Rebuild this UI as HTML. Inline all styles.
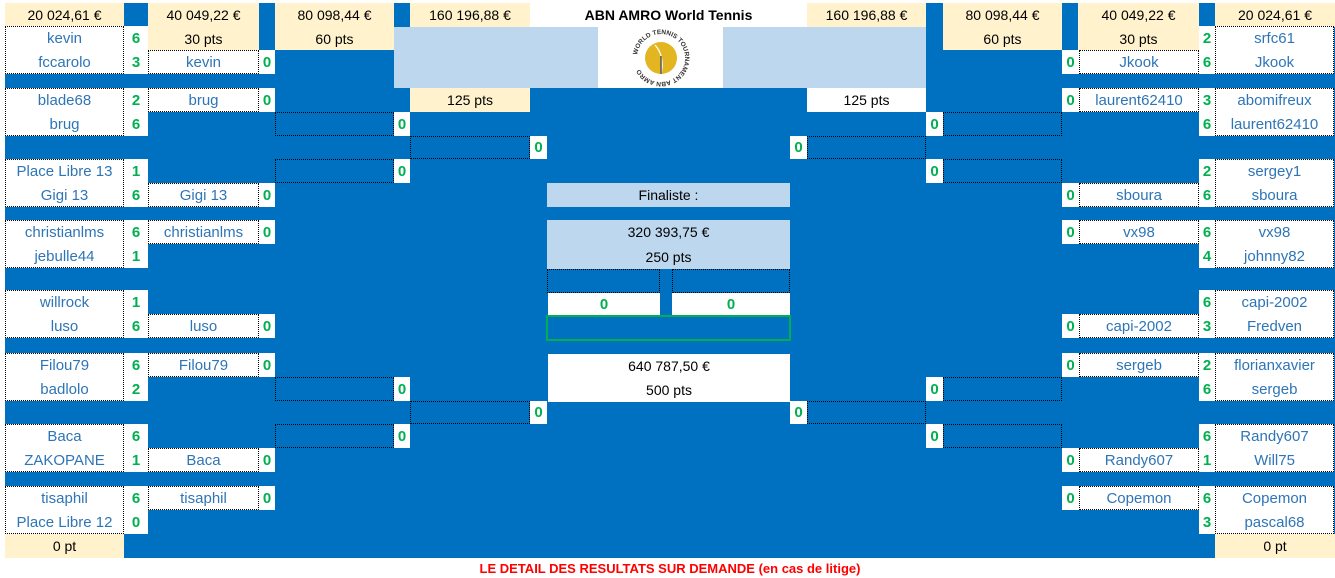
<!DOCTYPE html>
<html><head><meta charset="utf-8"><style>
body{margin:0;width:1335px;height:576px;background:#fff;position:relative;overflow:hidden;font-family:"Liberation Sans",Arial,sans-serif;}
.c{position:absolute;box-sizing:border-box;display:flex;align-items:center;justify-content:center;font-size:14px;color:#000;white-space:nowrap}
.y{background:#FFF2CC}
.w{background:#fff}
.lb{background:#BDD7EE}
.d{border:1px dotted #000}
.n{color:#2E75B6;font-size:15px}
.s{color:#00B050;font-weight:bold;font-size:15px;background:#fff}
</style></head><body>
<div class="c" style="left:5px;top:3px;width:1330px;height:555px;background:#0070C0"></div>
<!-- header row -->
<div class="c y" style="left:5px;top:3px;width:119px;height:24px">20 024,61 €</div>
<div class="c y" style="left:148px;top:3px;width:111px;height:24px">40 049,22 €</div>
<div class="c y" style="left:275px;top:3px;width:119px;height:24px">80 098,44 €</div>
<div class="c y" style="left:410px;top:3px;width:120px;height:24px">160 196,88 €</div>
<div class="c w" style="left:530px;top:3px;width:277px;height:24px;font-weight:bold">ABN AMRO World Tennis</div>
<div class="c y" style="left:807px;top:3px;width:119px;height:24px">160 196,88 €</div>
<div class="c y" style="left:943px;top:3px;width:119px;height:24px">80 098,44 €</div>
<div class="c y" style="left:1078px;top:3px;width:121px;height:24px">40 049,22 €</div>
<div class="c y" style="left:1215px;top:3px;width:120px;height:24px">20 024,61 €</div>
<div class="c y" style="left:148px;top:27px;width:111px;height:23px">30 pts</div>
<div class="c y" style="left:275px;top:27px;width:119px;height:23px">60 pts</div>
<div class="c y" style="left:943px;top:27px;width:119px;height:23px">60 pts</div>
<div class="c y" style="left:1078px;top:27px;width:121px;height:23px">30 pts</div>
<div class="c lb" style="left:394px;top:27px;width:532px;height:61px"></div>
<div class="c w" style="left:598px;top:27px;width:125px;height:61px">
<svg width="60" height="60" viewBox="0 0 60 60"><defs><path id="ring" d="M30,30 m-24,0 a24,24 0 1,1 48,0 a24,24 0 1,1 -48,0"/></defs>
<circle cx="30" cy="30" r="16" fill="#E2B521"/><path d="M24 17 Q34 28 30 46" stroke="#fff" fill="none" stroke-width="1.3"/><line x1="30" y1="28" x2="30" y2="46" stroke="#555" stroke-width="1.5"/>
<text font-size="6.5" font-weight="bold" fill="#333" font-family="Liberation Sans"><textPath href="#ring" startOffset="2%">WORLD TENNIS TOURNAMENT ABN AMRO</textPath></text></svg></div>
<div class="c y" style="left:410px;top:88px;width:120px;height:24px">125 pts</div>
<div class="c w" style="left:807px;top:88px;width:119px;height:24px">125 pts</div>

<!-- left first round -->
<div class="c w d" style="left:5px;top:26px;width:119px;height:48px"></div>
<div class="c n" style="left:5px;top:26px;width:119px;height:24px">kevin</div>
<div class="c n" style="left:5px;top:50px;width:119px;height:24px">fccarolo</div>
<div class="c s" style="left:124px;top:26px;width:24px;height:24px">6</div>
<div class="c s" style="left:124px;top:50px;width:24px;height:24px">3</div>
<div class="c w d" style="left:5px;top:88px;width:119px;height:48px"></div>
<div class="c n" style="left:5px;top:88px;width:119px;height:24px">blade68</div>
<div class="c n" style="left:5px;top:112px;width:119px;height:24px">brug</div>
<div class="c s" style="left:124px;top:88px;width:24px;height:24px">2</div>
<div class="c s" style="left:124px;top:112px;width:24px;height:24px">6</div>
<div class="c w d" style="left:5px;top:159px;width:119px;height:48px"></div>
<div class="c n" style="left:5px;top:159px;width:119px;height:24px">Place Libre 13</div>
<div class="c n" style="left:5px;top:183px;width:119px;height:24px">Gigi 13</div>
<div class="c s" style="left:124px;top:159px;width:24px;height:24px">1</div>
<div class="c s" style="left:124px;top:183px;width:24px;height:24px">6</div>
<div class="c w d" style="left:5px;top:220px;width:119px;height:48px"></div>
<div class="c n" style="left:5px;top:220px;width:119px;height:24px">christianlms</div>
<div class="c n" style="left:5px;top:244px;width:119px;height:24px">jebulle44</div>
<div class="c s" style="left:124px;top:220px;width:24px;height:24px">6</div>
<div class="c s" style="left:124px;top:244px;width:24px;height:24px">1</div>
<div class="c w d" style="left:5px;top:290px;width:119px;height:48px"></div>
<div class="c n" style="left:5px;top:290px;width:119px;height:24px">willrock</div>
<div class="c n" style="left:5px;top:314px;width:119px;height:24px">luso</div>
<div class="c s" style="left:124px;top:290px;width:24px;height:24px">1</div>
<div class="c s" style="left:124px;top:314px;width:24px;height:24px">6</div>
<div class="c w d" style="left:5px;top:353px;width:119px;height:48px"></div>
<div class="c n" style="left:5px;top:353px;width:119px;height:24px">Filou79</div>
<div class="c n" style="left:5px;top:377px;width:119px;height:24px">badlolo</div>
<div class="c s" style="left:124px;top:353px;width:24px;height:24px">6</div>
<div class="c s" style="left:124px;top:377px;width:24px;height:24px">2</div>
<div class="c w d" style="left:5px;top:424px;width:119px;height:48px"></div>
<div class="c n" style="left:5px;top:424px;width:119px;height:24px">Baca</div>
<div class="c n" style="left:5px;top:448px;width:119px;height:24px">ZAKOPANE</div>
<div class="c s" style="left:124px;top:424px;width:24px;height:24px">6</div>
<div class="c s" style="left:124px;top:448px;width:24px;height:24px">1</div>
<div class="c w d" style="left:5px;top:486px;width:119px;height:48px"></div>
<div class="c n" style="left:5px;top:486px;width:119px;height:24px">tisaphil</div>
<div class="c n" style="left:5px;top:510px;width:119px;height:24px">Place Libre 12</div>
<div class="c s" style="left:124px;top:486px;width:24px;height:24px">6</div>
<div class="c s" style="left:124px;top:510px;width:24px;height:24px">0</div>
<div class="c y" style="left:5px;top:534px;width:119px;height:24px">0 pt</div>

<!-- left round 2 -->
<div class="c w d n" style="left:148px;top:50px;width:111px;height:24px">kevin</div><div class="c s" style="left:259px;top:50px;width:16px;height:24px">0</div>
<div class="c w d n" style="left:148px;top:88px;width:111px;height:24px">brug</div><div class="c s" style="left:259px;top:88px;width:16px;height:24px">0</div>
<div class="c w d n" style="left:148px;top:183px;width:111px;height:24px">Gigi 13</div><div class="c s" style="left:259px;top:183px;width:16px;height:24px">0</div>
<div class="c w d n" style="left:148px;top:220px;width:111px;height:24px">christianlms</div><div class="c s" style="left:259px;top:220px;width:16px;height:24px">0</div>
<div class="c w d n" style="left:148px;top:314px;width:111px;height:24px">luso</div><div class="c s" style="left:259px;top:314px;width:16px;height:24px">0</div>
<div class="c w d n" style="left:148px;top:353px;width:111px;height:24px">Filou79</div><div class="c s" style="left:259px;top:353px;width:16px;height:24px">0</div>
<div class="c w d n" style="left:148px;top:448px;width:111px;height:24px">Baca</div><div class="c s" style="left:259px;top:448px;width:16px;height:24px">0</div>
<div class="c w d n" style="left:148px;top:486px;width:111px;height:24px">tisaphil</div><div class="c s" style="left:259px;top:486px;width:16px;height:24px">0</div>

<!-- left round 3 -->
<div class="c d" style="left:275px;top:112px;width:119px;height:24px"></div><div class="c s" style="left:394px;top:112px;width:16px;height:24px">0</div>
<div class="c d" style="left:275px;top:159px;width:119px;height:24px"></div><div class="c s" style="left:394px;top:159px;width:16px;height:24px">0</div>
<div class="c d" style="left:275px;top:377px;width:119px;height:24px"></div><div class="c s" style="left:394px;top:377px;width:16px;height:24px">0</div>
<div class="c d" style="left:275px;top:424px;width:119px;height:24px"></div><div class="c s" style="left:394px;top:424px;width:16px;height:24px">0</div>
<!-- left round 4 -->
<div class="c d" style="left:410px;top:136px;width:120px;height:23px"></div><div class="c s" style="left:530px;top:136px;width:17px;height:23px">0</div>
<div class="c d" style="left:410px;top:401px;width:120px;height:23px"></div><div class="c s" style="left:530px;top:401px;width:17px;height:23px">0</div>

<!-- center -->
<div class="c lb" style="left:547px;top:183px;width:243px;height:24px">Finaliste :</div>
<div class="c lb" style="left:547px;top:220px;width:243px;height:24px">320 393,75 €</div>
<div class="c lb" style="left:547px;top:244px;width:243px;height:25px">250 pts</div>
<div class="c d" style="left:547px;top:269px;width:113px;height:24px"></div>
<div class="c d" style="left:672px;top:269px;width:118px;height:24px"></div>
<div class="c s" style="left:548px;top:293px;width:112px;height:22px">0</div>
<div class="c s" style="left:672px;top:293px;width:118px;height:22px">0</div>
<div class="c" style="left:546px;top:315px;width:245px;height:26px;border:2px solid #00B050"></div>
<div class="c w" style="left:548px;top:354px;width:242px;height:24px">640 787,50 €</div>
<div class="c w" style="left:548px;top:378px;width:242px;height:24px">500 pts</div>

<!-- right round 4 -->
<div class="c s" style="left:790px;top:136px;width:17px;height:23px">0</div><div class="c d" style="left:807px;top:136px;width:119px;height:23px"></div>
<div class="c s" style="left:790px;top:401px;width:17px;height:23px">0</div><div class="c d" style="left:807px;top:401px;width:119px;height:23px"></div>
<!-- right round 3 -->
<div class="c s" style="left:926px;top:112px;width:17px;height:24px">0</div><div class="c d" style="left:943px;top:112px;width:119px;height:24px"></div>
<div class="c s" style="left:926px;top:159px;width:17px;height:24px">0</div><div class="c d" style="left:943px;top:159px;width:119px;height:24px"></div>
<div class="c s" style="left:926px;top:377px;width:17px;height:24px">0</div><div class="c d" style="left:943px;top:377px;width:119px;height:24px"></div>
<div class="c s" style="left:926px;top:424px;width:17px;height:24px">0</div><div class="c d" style="left:943px;top:424px;width:119px;height:24px"></div>

<!-- right round 2 -->
<div class="c s" style="left:1062px;top:50px;width:17px;height:24px">0</div><div class="c w d n" style="left:1079px;top:50px;width:120px;height:24px">Jkook</div>
<div class="c s" style="left:1062px;top:88px;width:17px;height:24px">0</div><div class="c w d n" style="left:1079px;top:88px;width:120px;height:24px">laurent62410</div>
<div class="c s" style="left:1062px;top:183px;width:17px;height:24px">0</div><div class="c w d n" style="left:1079px;top:183px;width:120px;height:24px">sboura</div>
<div class="c s" style="left:1062px;top:220px;width:17px;height:24px">0</div><div class="c w d n" style="left:1079px;top:220px;width:120px;height:24px">vx98</div>
<div class="c s" style="left:1062px;top:314px;width:17px;height:24px">0</div><div class="c w d n" style="left:1079px;top:314px;width:120px;height:24px">capi-2002</div>
<div class="c s" style="left:1062px;top:353px;width:17px;height:24px">0</div><div class="c w d n" style="left:1079px;top:353px;width:120px;height:24px">sergeb</div>
<div class="c s" style="left:1062px;top:448px;width:17px;height:24px">0</div><div class="c w d n" style="left:1079px;top:448px;width:120px;height:24px">Randy607</div>
<div class="c s" style="left:1062px;top:486px;width:17px;height:24px">0</div><div class="c w d n" style="left:1079px;top:486px;width:120px;height:24px">Copemon</div>

<!-- right first round -->
<div class="c w d" style="left:1215px;top:26px;width:119px;height:48px"></div>
<div class="c n" style="left:1215px;top:26px;width:119px;height:24px">srfc61</div>
<div class="c n" style="left:1215px;top:50px;width:119px;height:24px">Jkook</div>
<div class="c s" style="left:1199px;top:26px;width:16px;height:24px">2</div>
<div class="c s" style="left:1199px;top:50px;width:16px;height:24px">6</div>
<div class="c w d" style="left:1215px;top:88px;width:119px;height:48px"></div>
<div class="c n" style="left:1215px;top:88px;width:119px;height:24px">abomifreux</div>
<div class="c n" style="left:1215px;top:112px;width:119px;height:24px">laurent62410</div>
<div class="c s" style="left:1199px;top:88px;width:16px;height:24px">3</div>
<div class="c s" style="left:1199px;top:112px;width:16px;height:24px">6</div>
<div class="c w d" style="left:1215px;top:159px;width:119px;height:48px"></div>
<div class="c n" style="left:1215px;top:159px;width:119px;height:24px">sergey1</div>
<div class="c n" style="left:1215px;top:183px;width:119px;height:24px">sboura</div>
<div class="c s" style="left:1199px;top:159px;width:16px;height:24px">2</div>
<div class="c s" style="left:1199px;top:183px;width:16px;height:24px">6</div>
<div class="c w d" style="left:1215px;top:220px;width:119px;height:48px"></div>
<div class="c n" style="left:1215px;top:220px;width:119px;height:24px">vx98</div>
<div class="c n" style="left:1215px;top:244px;width:119px;height:24px">johnny82</div>
<div class="c s" style="left:1199px;top:220px;width:16px;height:24px">6</div>
<div class="c s" style="left:1199px;top:244px;width:16px;height:24px">4</div>
<div class="c w d" style="left:1215px;top:290px;width:119px;height:48px"></div>
<div class="c n" style="left:1215px;top:290px;width:119px;height:24px">capi-2002</div>
<div class="c n" style="left:1215px;top:314px;width:119px;height:24px">Fredven</div>
<div class="c s" style="left:1199px;top:290px;width:16px;height:24px">6</div>
<div class="c s" style="left:1199px;top:314px;width:16px;height:24px">3</div>
<div class="c w d" style="left:1215px;top:353px;width:119px;height:48px"></div>
<div class="c n" style="left:1215px;top:353px;width:119px;height:24px">florianxavier</div>
<div class="c n" style="left:1215px;top:377px;width:119px;height:24px">sergeb</div>
<div class="c s" style="left:1199px;top:353px;width:16px;height:24px">2</div>
<div class="c s" style="left:1199px;top:377px;width:16px;height:24px">6</div>
<div class="c w d" style="left:1215px;top:424px;width:119px;height:48px"></div>
<div class="c n" style="left:1215px;top:424px;width:119px;height:24px">Randy607</div>
<div class="c n" style="left:1215px;top:448px;width:119px;height:24px">Will75</div>
<div class="c s" style="left:1199px;top:424px;width:16px;height:24px">6</div>
<div class="c s" style="left:1199px;top:448px;width:16px;height:24px">1</div>
<div class="c w d" style="left:1215px;top:486px;width:119px;height:48px"></div>
<div class="c n" style="left:1215px;top:486px;width:119px;height:24px">Copemon</div>
<div class="c n" style="left:1215px;top:510px;width:119px;height:24px">pascal68</div>
<div class="c s" style="left:1199px;top:486px;width:16px;height:24px">6</div>
<div class="c s" style="left:1199px;top:510px;width:16px;height:24px">3</div>
<div class="c y" style="left:1215px;top:534px;width:120px;height:24px">0 pt</div>

<div class="c" style="left:0;top:558px;width:1340px;height:20px;color:#FF0000;font-weight:bold;font-size:13px">LE DETAIL DES RESULTATS SUR DEMANDE (en cas de litige)</div>
</body></html>
